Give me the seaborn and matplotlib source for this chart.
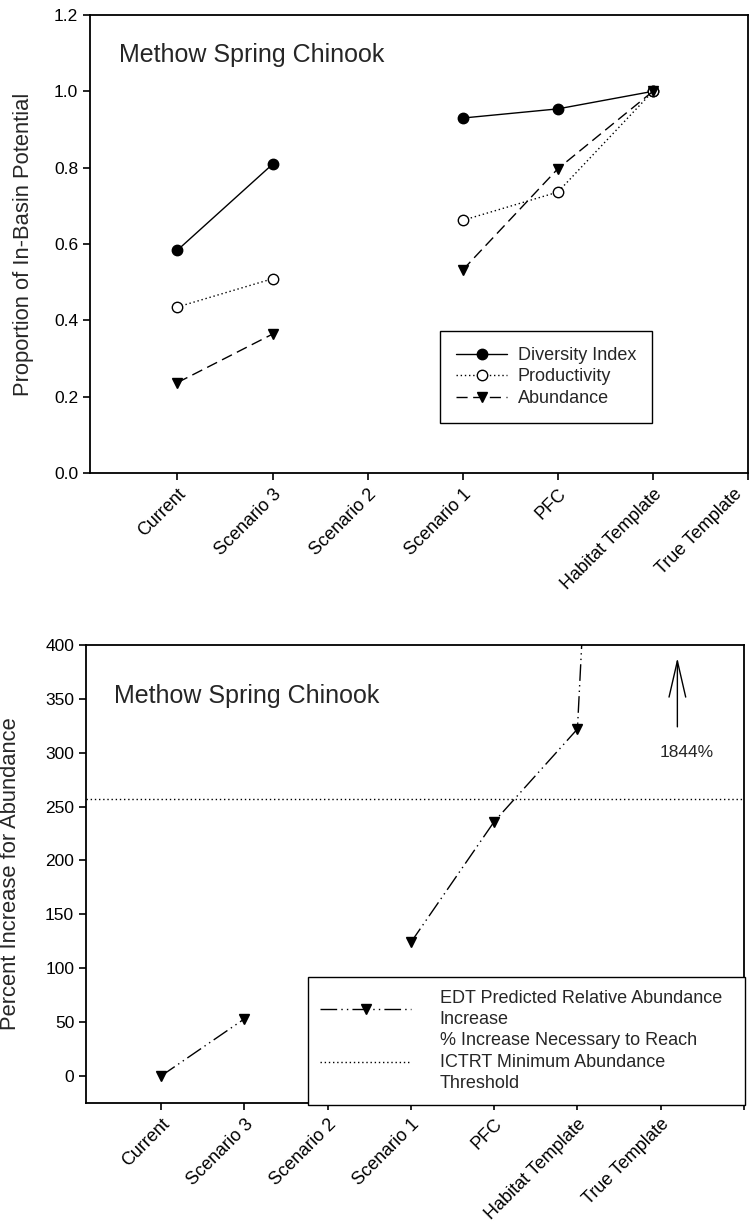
import numpy as np
import pandas as pd
import matplotlib
matplotlib.use("Agg")
import matplotlib.pyplot as plt
import matplotlib.transforms as mtransforms
from matplotlib.lines import Line2D
import seaborn as sns

# ---- data -------------------------------------------------------------
categories = ["Current", "Scenario 3", "Scenario 2", "Scenario 1",
              "PFC", "Habitat Template", "True Template"]

diversity_index = [0.584, 0.809, np.nan, 0.930, 0.954, 1.000, np.nan]
productivity = [0.435, 0.509, np.nan, 0.662, 0.736, 1.000, np.nan]
abundance = [0.237, 0.364, np.nan, 0.532, 0.797, 1.000, np.nan]

pct_increase = [0.0, 53.0, np.nan, 124.0, 236.0, 322.0, 1844.0]
ictrt_threshold = 257.0

top_yticks = [0.0, 0.2, 0.4, 0.6, 0.8, 1.0, 1.2]
bottom_yticks = [0, 50, 100, 150, 200, 250, 300, 350, 400]
panel_title = "Methow Spring Chinook"

# ---- style ------------------------------------------------------------
sns.set_style("ticks")
plt.rcParams["font.family"] = ["Liberation Sans", "DejaVu Sans"]
plt.rcParams["axes.linewidth"] = 1.3
plt.rcParams["axes.edgecolor"] = "black"


def segmented(values):
    """Long table with a segment id so gaps (NaN) break the line."""
    s = pd.Series(values, dtype=float)
    df = pd.DataFrame({"pos": np.arange(len(s)), "value": s,
                       "segment": s.isna().cumsum()})
    return df.dropna()


def draw_series(ax, values, ls, marker, mfc, ms=7.5):
    sns.lineplot(data=segmented(values), x="pos", y="value", units="segment",
                 estimator=None, color="black", lw=1.0, linestyle=ls,
                 marker=marker, markersize=ms, markerfacecolor=mfc,
                 markeredgecolor="black", markeredgewidth=1.0,
                 legend=False, ax=ax)


def style_axes(ax, labels):
    for side in ["top", "right", "left", "bottom"]:
        ax.spines[side].set_visible(True)
        ax.spines[side].set_color("black")
    ax.tick_params(direction="out", length=5, width=1.2, labelsize=12.5,
                   colors="black", top=False, right=False)
    ax.tick_params(axis="x", pad=4)
    ax.set_xticklabels(labels, rotation=45, ha="right", va="top",
                       rotation_mode="anchor", fontsize=13)
    ax.set_xlabel("")


fig = plt.figure(figsize=(7.5, 12.28), dpi=100)

dash_long = (0, (8, 4))
dots = (0, (1, 2))
dash_dot_dot = (0, (12, 3, 1, 3, 1, 3))

# ---- top panel: proportion of in-basin potential -------------------------
ax1 = fig.add_axes([0.120, 0.6148, 0.8773, 0.3730])
draw_series(ax1, diversity_index, "-", "o", "black")
draw_series(ax1, productivity, dots, "o", "white")
draw_series(ax1, abundance, dash_long, "v", "black")

ax1.set_xlim(-0.92, 6.0)
ax1.set_ylim(0, 1.2)
ax1.set_yticks(top_yticks)
ax1.set_yticklabels([f"{v:.1f}" for v in top_yticks])
ax1.set_xticks(range(len(categories)))
style_axes(ax1, categories)
# last label sits on the right edge of the frame; nudge it inward
last = ax1.get_xticklabels()[-1]
last.set_transform(last.get_transform() + mtransforms.ScaledTranslation(
    -14 / 100, 0, fig.dpi_scale_trans))
ax1.set_ylabel("Proportion of In-Basin Potential", fontsize=15.8)
ax1.yaxis.set_label_coords(-0.085, 0.5)
ax1.text(0.044, 0.897, panel_title, transform=ax1.transAxes,
         fontsize=18, ha="left", va="baseline")

top_handles = [
    Line2D([], [], color="black", lw=1.0, ls="-", marker="o", ms=7.5,
           mfc="black", mec="black"),
    Line2D([], [], color="black", lw=1.0, ls=dots, marker="o", ms=7.5,
           mfc="white", mec="black"),
    Line2D([], [], color="black", lw=1.0, ls=dash_long, marker="v", ms=7.5,
           mfc="black", mec="black"),
]
leg1 = ax1.legend(top_handles, ["Diversity Index", "Productivity", "Abundance"],
                  loc="lower left", bbox_to_anchor=(0.532, 0.109),
                  borderaxespad=0, fontsize=13, handlelength=2.8,
                  handletextpad=0.6, labelspacing=0.25, borderpad=0.9,
                  frameon=True, fancybox=False, edgecolor="black",
                  framealpha=1)
leg1.get_frame().set_linewidth(1.0)

# ---- bottom panel: percent increase for abundance -------------------------
ax2 = fig.add_axes([0.1147, 0.1018, 0.8773, 0.3730])
ax2.axhline(ictrt_threshold, color="black", lw=1.0, ls=dots)
draw_series(ax2, pct_increase, dash_dot_dot, "v", "black")

ax2.set_xlim(-0.9, 7.0)
ax2.set_ylim(-25, 400)
ax2.set_yticks(bottom_yticks)
ax2.set_xticks(range(len(categories) + 1))
style_axes(ax2, categories + [""])
ax2.set_ylabel("Percent Increase for Abundance", fontsize=15.8)
ax2.yaxis.set_label_coords(-0.099, 0.5)
ax2.text(0.0426, 0.874, panel_title, transform=ax2.transAxes,
         fontsize=18, ha="left", va="baseline")

# off-scale value for the last scenario
off_scale = pct_increase[-1]
ax2.annotate("", xy=(6.2, 388), xytext=(6.2, 324),
             arrowprops=dict(arrowstyle="->,head_length=1.3,head_width=0.3",
                             mutation_scale=20, lw=1.0, color="black",
                             shrinkA=0, shrinkB=0))
ax2.text(6.31, 300, f"{off_scale:.0f}%", fontsize=12.5, ha="center",
         va="center")

bottom_handles = [
    Line2D([], [], color="black", lw=1.0, ls=dash_dot_dot, marker="v",
           ms=7.5, mfc="black", mec="black"),
    Line2D([], [], color="black", lw=1.0, ls=dots),
]
leg2 = ax2.legend(bottom_handles,
                  ["EDT Predicted Relative Abundance\nIncrease",
                   "% Increase Necessary to Reach\nICTRT Minimum Abundance\nThreshold"],
                  loc="lower left", bbox_to_anchor=(0.337, -0.004, 0.664, 0.28),
                  mode="expand", borderaxespad=0, fontsize=13,
                  handlelength=5.0, handletextpad=1.6, labelspacing=0.2,
                  borderpad=0.7, frameon=True, fancybox=False,
                  edgecolor="black", framealpha=1)
for t in leg2.get_texts():
    t.set_linespacing(1.36)
leg2.get_frame().set_linewidth(1.0)
leg2.set_clip_on(False)

fig.savefig("out.png", dpi=100)
